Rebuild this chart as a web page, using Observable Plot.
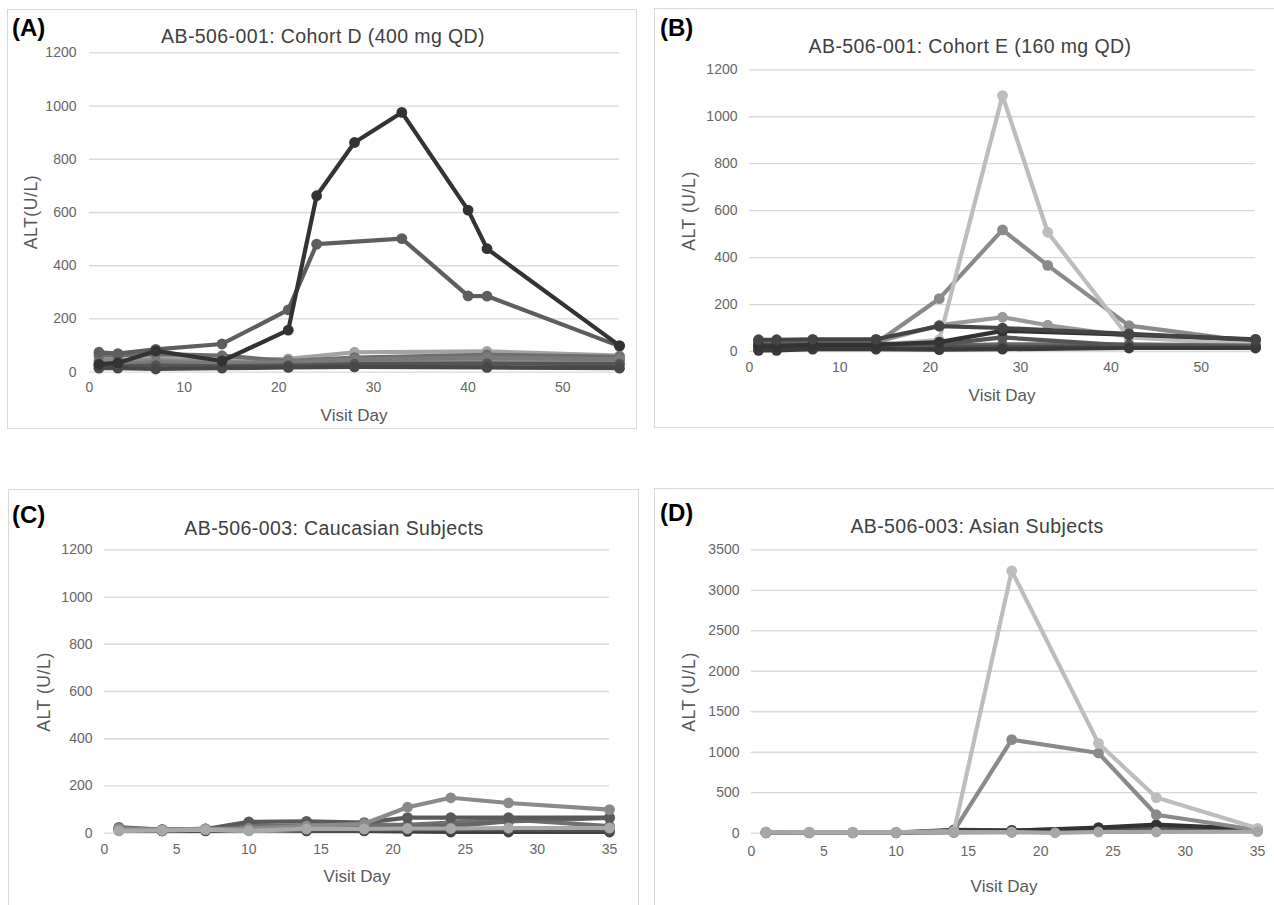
<!DOCTYPE html>
<html><head><meta charset="utf-8">
<script src="https://cdn.jsdelivr.net/npm/d3@7"></script>
<script src="https://cdn.jsdelivr.net/npm/@observablehq/plot@0.6"></script>
<style>
body{margin:0;background:#fff;font-family:"Liberation Sans",Arial,sans-serif;}
#root{position:relative;width:1274px;height:905px;overflow:hidden;background:#fff}
.box{position:absolute;border:1.5px solid #d9d9d9;box-sizing:border-box}
.tag{position:absolute;font-weight:bold;font-size:24px;color:#000;line-height:1;transform:translateY(-50%)}
.title{position:absolute;font-size:19.5px;letter-spacing:0.4px;color:#404040;white-space:nowrap;transform:translate(-50%,-50%);line-height:1}
.xlab{position:absolute;font-size:17px;color:#595959;white-space:nowrap;transform:translate(-50%,-50%);line-height:1}
.ylab{position:absolute;font-size:17.5px;letter-spacing:0.6px;color:#595959;white-space:nowrap;transform:translate(-50%,-50%) rotate(-90deg);line-height:1}
svg{position:absolute}
</style>
</head><body><div id="root"></div>
<script>
// ---------- Panel A: AB-506-001 Cohort D (400 mg QD) ----------
const daysA = [1, 3, 7, 14, 21, 24, 28, 33, 40, 42, 56];
const A_s1 = [30, 35, 80, 42, 158, 663, 863, 976, 609, 464, 100];
const A_s2 = [75, 70, 86, 106, 234, 481, null, 502, 287, 286, 98];
const A_s3 = [38, 38, 55, 45, 50, null, 75, null, null, 78, 62];
const A_s4 = [62, 62, 68, 62, 42, null, 55, null, null, 65, 58];
const A_s5 = [30, 30, 38, 32, 38, null, 48, null, null, 55, 48];
const A_s6 = [45, 45, 45, 40, 32, null, 38, null, null, 42, 40];
const A_s7 = [22, 22, 25, 22, 25, null, 30, null, null, 32, 30];
const A_s8 = [15, 15, 12, 15, 18, null, 20, null, null, 18, 15];
const xTicksA = [0, 10, 20, 30, 40, 50];
const yTicksA = [0, 200, 400, 600, 800, 1000, 1200];

// ---------- Panel B: AB-506-001 Cohort E (160 mg QD) ----------
const daysB = [1, 3, 7, 14, 21, 28, 33, 42, 56];
const B_s1 = [30, 30, 30, 28, 50, 1090, 508, 60, 30];
const B_s2 = [40, 40, 40, 35, 225, 518, 367, 110, 40];
const B_s3 = [45, 45, 45, 40, 112, 146, 112, 65, 35];
const B_s4 = [50, 50, 52, 52, 108, 100, null, 75, 50];
const B_s5 = [22, 22, 28, 28, 40, 88, null, 72, 52];
const B_s6 = [12, 12, 15, 15, 30, 60, null, 25, 20];
const B_s7 = [35, 35, 35, 35, 25, 30, null, 30, 25];
const B_s8 = [28, 28, 28, 25, 20, 20, null, 20, 18];
const B_s9 = [5, 5, 10, 10, 8, 10, null, 15, 15];
const xTicksB = [0, 10, 20, 30, 40, 50];
const yTicksB = [0, 200, 400, 600, 800, 1000, 1200];

// ---------- Panel C: AB-506-003 Caucasian Subjects ----------
const daysC = [1, 4, 7, 10, 14, 18, 21, 24, 28, 35];
const C_s1 = [20, 15, 18, 20, 30, 40, 110, 150, 128, 100];
const C_s2 = [25, 15, 18, 48, 50, 45, 66, 66, 66, 66];
const C_s3 = [20, 15, 18, 30, 30, 35, 35, 45, 58, 30];
const C_s4 = [18, 12, 15, 20, 20, 22, 25, 30, 50, 65];
const C_s5 = [12, 10, 10, 12, 12, 12, 15, 15, 15, 12];
const C_s6 = [15, 10, 12, 15, 10, 10, 8, 5, 5, 5];
const C_s7 = [10, 12, 15, 10, 18, 18, 20, 20, 22, 22];
const xTicksC = [0, 5, 10, 15, 20, 25, 30, 35];
const yTicksC = [0, 200, 400, 600, 800, 1000, 1200];

// ---------- Panel D: AB-506-003 Asian Subjects ----------
const daysD = [1, 4, 7, 10, 14, 18, 21, 24, 28, 35];
const D_s1 = [10, 10, 10, 10, 20, 3240, null, 1110, 440, 60];
const D_s2 = [10, 10, 10, 10, 30, 1155, null, 990, 228, 40];
const D_s3 = [5, 5, 5, 5, 35, 30, null, 70, 105, 50];
const D_s4 = [8, 8, 8, 8, 40, 35, null, 55, 75, 40];
const D_s5 = [5, 5, 5, 5, 10, 12, null, 30, 50, 30];
const D_s6 = [15, 12, 12, 12, 15, 15, 5, 15, 15, 20];
const xTicksD = [0, 5, 10, 15, 20, 25, 30, 35];
const yTicksD = [0, 500, 1000, 1500, 2000, 2500, 3000, 3500];

const panels = [
  {tag: "(A)", title: "AB-506-001: Cohort D (400 mg QD)", ylabel: "ALT(U/L)", xlabel: "Visit Day",
   box: [7, 9, 637, 429], frame: [89, 619, 52.3, 371.7], xDomain: [0, 56], yDomain: [0, 1200],
   xTicks: xTicksA, yTicks: yTicksA, xPad: 10, yPad: 13,
   tagPos: [12, 28], titlePos: [323, 37], xlabPos: [354, 415], ylabPos: [32, 212],
   days: daysA,
   series: [[A_s3, "#a3a3a3"], [A_s6, "#8a8a8a"], [A_s4, "#6e6e6e"], [A_s5, "#7a7a7a"], [A_s7, "#555555"], [A_s8, "#484848"], [A_s2, "#5e5e5e"], [A_s1, "#333333"]]},
  {tag: "(B)", title: "AB-506-001: Cohort E (160 mg QD)", ylabel: "ALT (U/L)", xlabel: "Visit Day",
   box: [654, 8, 1290, 428], frame: [749, 1255, 69.3, 351], xDomain: [0, 56], yDomain: [0, 1200],
   xTicks: xTicksB, yTicks: yTicksB, xPad: 11, yPad: 12,
   tagPos: [660, 28], titlePos: [970, 47], xlabPos: [1002, 395], ylabPos: [690, 211],
   days: daysB,
   series: [[B_s3, "#9a9a9a"], [B_s2, "#8a8a8a"], [B_s1, "#bdbdbd"], [B_s7, "#6a6a6a"], [B_s8, "#4d4d4d"], [B_s6, "#555555"], [B_s9, "#3a3a3a"], [B_s5, "#333333"], [B_s4, "#444444"]]},
  {tag: "(C)", title: "AB-506-003: Caucasian Subjects", ylabel: "ALT (U/L)", xlabel: "Visit Day",
   box: [8, 489, 639, 915], frame: [104, 609, 549.3, 832.7], xDomain: [0, 35], yDomain: [0, 1200],
   xTicks: xTicksC, yTicks: yTicksC, xPad: 11, yPad: 12,
   tagPos: [12, 515], titlePos: [334, 529], xlabPos: [357, 876], ylabPos: [45, 692],
   days: daysC,
   series: [[C_s6, "#3f3f3f"], [C_s5, "#4f4f4f"], [C_s3, "#707070"], [C_s4, "#666666"], [C_s2, "#5a5a5a"], [C_s1, "#8a8a8a"], [C_s7, "#a8a8a8"]]},
  {tag: "(D)", title: "AB-506-003: Asian Subjects", ylabel: "ALT (U/L)", xlabel: "Visit Day",
   box: [654, 488, 1290, 915], frame: [751, 1257, 549.3, 832.7], xDomain: [0, 35], yDomain: [0, 3500],
   xTicks: xTicksD, yTicks: yTicksD, xPad: 13, yPad: 12,
   tagPos: [660, 513], titlePos: [977, 527], xlabPos: [1004, 886], ylabPos: [690, 692],
   days: daysD,
   series: [[D_s5, "#707070"], [D_s4, "#555555"], [D_s3, "#333333"], [D_s2, "#8a8a8a"], [D_s1, "#bdbdbd"], [D_s6, "#a6a6a6"]]}
];

const root = document.getElementById("root");
function addDiv(cls, text, x, y) {
  const d = document.createElement("div");
  d.className = cls; d.textContent = text;
  d.style.left = x + "px"; d.style.top = y + "px";
  root.appendChild(d); return d;
}

for (const p of panels) {
  const [bl, bt, br, bb] = p.box;
  const box = document.createElement("div");
  box.className = "box";
  box.style.left = bl + "px"; box.style.top = bt + "px";
  box.style.width = (br - bl) + "px"; box.style.height = (bb - bt) + "px";
  root.appendChild(box);

  const [fx0, fx1, fy0, fy1] = p.frame;
  const W = br - bl, H = bb - bt;
  const marks = [
    Plot.gridY({ticks: p.yTicks, stroke: "#d9d9d9", strokeOpacity: 1, strokeWidth: 1.3}),
    Plot.axisY({ticks: p.yTicks, tickSize: 0, tickPadding: p.yPad, fontSize: 14, label: null, tickFormat: d => String(d)}),
    Plot.axisX({ticks: p.xTicks, tickSize: 0, tickPadding: p.xPad, fontSize: 14, label: null, tickFormat: d => String(d)})
  ];
  for (const [vals, color] of p.series) {
    const rows = p.days.map((d, i) => ({day: d, v: vals[i]})).filter(r => r.v != null);
    marks.push(Plot.line(rows, {x: "day", y: "v", stroke: color, strokeWidth: 4.2, strokeLinejoin: "round"}));
    marks.push(Plot.dot(rows, {x: "day", y: "v", r: 5.4, fill: color, stroke: "none"}));
  }
  const svg = Plot.plot({
    width: W, height: H,
    marginLeft: fx0 - bl, marginRight: br - fx1, marginTop: fy0 - bt, marginBottom: bb - fy1,
    x: {domain: p.xDomain},
    y: {domain: p.yDomain},
    style: {background: "transparent", color: "#666", fontFamily: "Liberation Sans, Arial, sans-serif", overflow: "visible"},
    marks
  });
  svg.style.left = bl + "px"; svg.style.top = bt + "px";
  root.appendChild(svg);

  addDiv("tag", p.tag, p.tagPos[0], p.tagPos[1]);
  addDiv("title", p.title, p.titlePos[0], p.titlePos[1]);
  addDiv("xlab", p.xlabel, p.xlabPos[0], p.xlabPos[1]);
  addDiv("ylab", p.ylabel, p.ylabPos[0], p.ylabPos[1]);
}
</script>
</body></html>
